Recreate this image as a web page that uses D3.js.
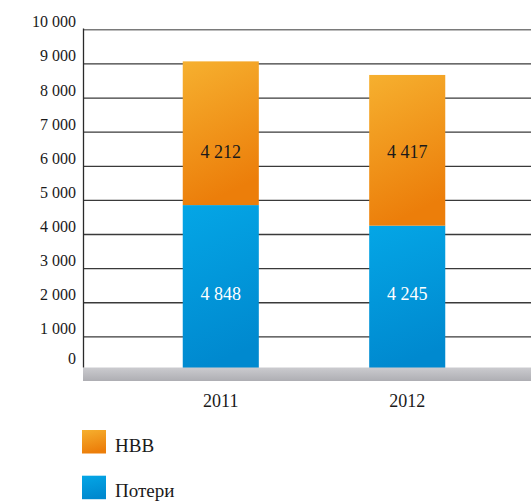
<!DOCTYPE html>
<html>
<head>
<meta charset="utf-8">
<script src="https://cdn.jsdelivr.net/npm/d3@7"></script>
<style>
  html, body { margin: 0; padding: 0; background: #fff; }
  svg { display: block; }
</style>
</head>
<body>
<svg id="chart" width="531" height="502"></svg>
<script>
// Years on the x axis
const years = ["2011", "2012"];
// Losses (bottom segment) and required gross revenue (top segment)
const poteri = [4848, 4245];
const nvv = [4212, 4417];
// Y axis ticks
const yTicks = [0, 1000, 2000, 3000, 4000, 5000, 6000, 7000, 8000, 9000, 10000];
// Legend entries
const legendLabels = ["НВВ", "Потери"];

const SERIF = "Liberation Serif";

const svg = d3.select("#chart");
const defs = svg.append("defs");

const fmt = v => d3.format(",")(v).replace(/,/g, " ");

const x = d3.scaleBand().domain(years).range([83, 545]).paddingInner(0.592).paddingOuter(0.535);
const y = d3.scaleLinear().domain([0, 10000]).range([370.5, 29.3]);

function label(sel) {
  return sel.attr("font-family", SERIF).style("fill", "#1a1a1a");
}

// Gradients
function grad(id, c1, c2, x2, y2) {
  const g = defs.append("linearGradient").attr("id", id)
    .attr("x1", 0).attr("y1", 0).attr("x2", x2).attr("y2", y2);
  g.append("stop").attr("offset", "0%").attr("stop-color", c1);
  g.append("stop").attr("offset", "100%").attr("stop-color", c2);
}
grad("gOrange", "#f6b02f", "#ec7e0a", 0.25, 1);
grad("gBlue", "#04a6e6", "#0089cf", 0.2, 1);
grad("gBase", "#cbcbcf", "#aeaeb3", 0, 1);

// Gridlines
svg.append("g")
  .attr("transform", "translate(83,0)")
  .call(d3.axisLeft(y).tickValues(yTicks.filter(d => d > 0)).tickSize(-448).tickFormat(""))
  .call(g => g.select(".domain").remove())
  .call(g => g.selectAll(".tick line").attr("stroke", "#3a3a3a").attr("stroke-width", 1.3))
  .call(g => g.selectAll(".tick").filter(d => d === 10000).select("line").attr("stroke", "#7a7a7a").attr("stroke-width", 1.5));

// Tick labels
svg.append("g")
  .selectAll("text")
  .data(yTicks)
  .join("text")
  .attr("x", 76)
  .attr("y", d => y(d) - (d === 0 ? 6.5 : 2))
  .attr("text-anchor", "end")
  .attr("font-size", 16)
  .call(label)
  .text(d => fmt(d));

// Stacked bars
const stacks = years.map((yr, i) => ({ yr, p: poteri[i], n: nvv[i] }));

const bars = svg.append("g");
bars.selectAll("rect.p").data(stacks).join("rect")
  .attr("class", "p")
  .attr("x", d => x(d.yr)).attr("width", x.bandwidth())
  .attr("y", d => y(d.p)).attr("height", d => y(0) - y(d.p))
  .attr("fill", "url(#gBlue)");
bars.selectAll("rect.n").data(stacks).join("rect")
  .attr("class", "n")
  .attr("x", d => x(d.yr)).attr("width", x.bandwidth())
  .attr("y", d => y(d.p + d.n)).attr("height", d => y(d.p) - y(d.p + d.n))
  .attr("fill", "url(#gOrange)");

// Value labels
bars.selectAll("text.nl").data(stacks).join("text")
  .attr("class", "nl")
  .attr("x", d => x(d.yr) + x.bandwidth() / 2)
  .attr("y", y(6230))
  .attr("text-anchor", "middle").attr("font-size", 18)
  .call(label)
  .text(d => fmt(d.n));
bars.selectAll("text.pl").data(stacks).join("text")
  .attr("class", "pl")
  .attr("x", d => x(d.yr) + x.bandwidth() / 2)
  .attr("y", y(2070))
  .attr("text-anchor", "middle").attr("font-size", 18)
  .call(label)
  .style("fill", "#fff")
  .text(d => fmt(d.p));

// Base strip
svg.append("rect")
  .attr("x", 83).attr("y", 367.5).attr("width", 448).attr("height", 13.5)
  .attr("fill", "url(#gBase)");

// Vertical axis line
svg.append("line")
  .attr("x1", 83.5).attr("x2", 83.5).attr("y1", 28.5).attr("y2", 367.5)
  .attr("stroke", "#2a2a2a").attr("stroke-width", 1.3);

// Year labels
svg.append("g").selectAll("text").data(years).join("text")
  .attr("x", d => x(d) + x.bandwidth() / 2)
  .attr("y", 406.5)
  .attr("text-anchor", "middle").attr("font-size", 18)
  .call(label)
  .text(d => d);

// Legend
const legend = svg.append("g");
const fills = ["url(#gOrange)", "url(#gBlue)"];
legendLabels.forEach((lab, i) => {
  const gy = 430 + i * 45.7;
  legend.append("rect").attr("x", 82).attr("y", gy).attr("width", 24).attr("height", 23.5).attr("fill", fills[i]);
  legend.append("text").attr("x", 115).attr("y", gy + 21.5).attr("font-size", 19).call(label).text(lab);
});
</script>
</body>
</html>
